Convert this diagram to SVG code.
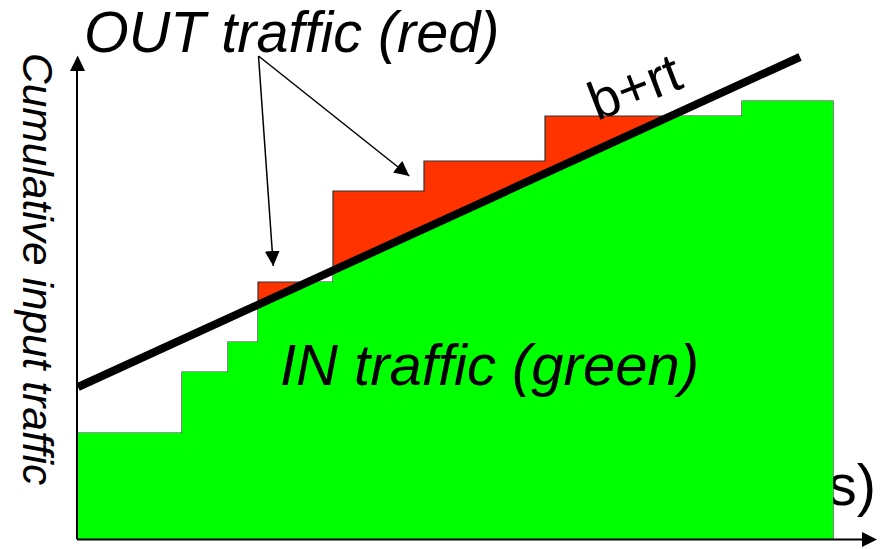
<svg xmlns="http://www.w3.org/2000/svg" width="880" height="549" viewBox="0 0 880 549">
<style>
.lbl{font-family:"Liberation Sans",Arial,sans-serif;fill:#000}
.it{font-style:italic}
.step{stroke:#333;stroke-width:1.2;stroke-linejoin:miter}
.axis{stroke:#000;stroke-width:2;fill:none}
.ptr{stroke:#000;stroke-width:1.5;fill:none}
</style>
<defs>
<marker id="ah" markerUnits="userSpaceOnUse" markerWidth="16" markerHeight="16" refX="15" refY="7.5" orient="auto">
<path d="M0,0 L15,7.5 L0,15 z" fill="#000"/>
</marker>
<clipPath id="below"><polygon points="0,422.6 880,20.5 880,549 0,549"/></clipPath>
</defs>
<g id="x-label"><text class="lbl" x="876" y="505" font-size="58" text-anchor="end">s)</text></g>
<g id="traffic">
<polygon id="out-traffic" class="step" fill="#ff3300" points="77,433 182,433 182,372 228,372 228,342 258,342 258,282 333,282 333,191 424,191 424,161 545,161 545,116 742,116 742,101 833,101 833,539 77,539"/>
<polygon id="in-traffic" fill="#00ff00" clip-path="url(#below)" points="77,433 182,433 182,372 228,372 228,342 258,342 258,282 333,282 333,191 424,191 424,161 545,161 545,116 742,116 742,101 833,101 833,539 77,539"/>
</g>
<g id="axes">
<line class="axis" x1="77" y1="539" x2="77" y2="70"/>
<path d="M70,71 L77.7,55.5 L85,71 z" fill="#000"/>
<line class="axis" x1="77" y1="539.5" x2="863" y2="539.5"/>
<path d="M862,532 L877,539.5 L862,547 z" fill="#000"/>
</g>
<g id="bound">
<line x1="78" y1="387" x2="800" y2="57" stroke="#000" stroke-width="8"/>
<text class="lbl" font-size="54" transform="translate(597,121) rotate(-21)">b+rt</text>
</g>
<g id="connectors">
<line class="ptr" x1="258.5" y1="56" x2="273.3" y2="266" marker-end="url(#ah)"/>
<line class="ptr" x1="258.5" y1="56" x2="409.3" y2="176" marker-end="url(#ah)"/>
</g>
<g id="labels">
<text class="lbl it" x="84" y="52" font-size="57.5">OUT traffic (red)</text>
<text class="lbl it" x="280" y="385" font-size="58">IN traffic (green)</text>
<text class="lbl it" font-size="42.5" transform="translate(23,53) rotate(90)">Cumulative input traffic</text>
</g>
</svg>
